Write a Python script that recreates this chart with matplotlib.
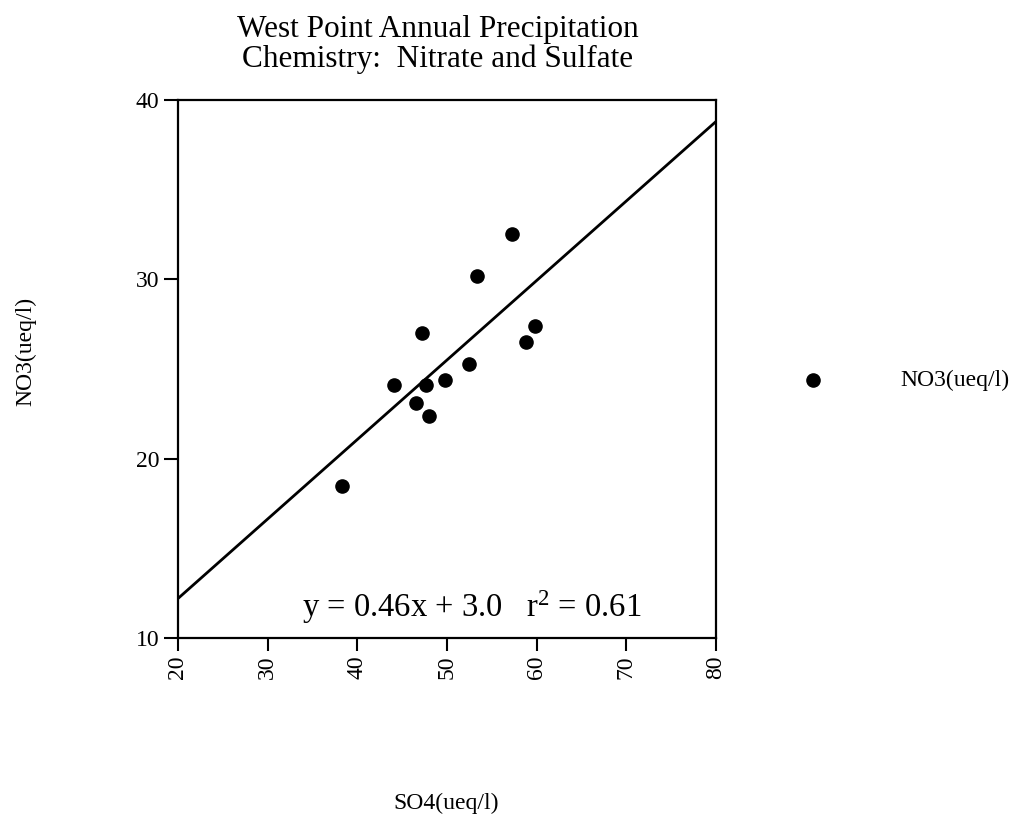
import matplotlib.pyplot as plt

plt.rcParams['font.family'] = ['Liberation Serif', 'DejaVu Serif']
plt.rcParams['mathtext.fontset'] = 'custom'
plt.rcParams['mathtext.rm'] = 'Liberation Serif'
plt.rcParams['mathtext.it'] = 'Liberation Serif'

# SO4 vs NO3 annual values (ueq/l)
so4 = [38.3, 44.1, 46.6, 47.2, 47.7, 48.0, 49.8, 52.5, 53.3, 57.3, 58.8, 59.8]
no3 = [18.5, 24.1, 23.1, 27.0, 24.1, 22.4, 24.4, 25.3, 30.2, 32.5, 26.5, 27.4]

# fitted line as drawn (ends at the axis edges) and the annotation values
fit_x = [20, 80]
fit_y = [12.2, 38.8]
slope = 0.46
intercept = 3.0
r2 = 0.61

x_ticks = [20, 30, 40, 50, 60, 70, 80]
y_ticks = [10, 20, 30, 40]

fig = plt.figure(figsize=(10.14, 8.23), dpi=100)
ax = fig.add_axes([0.1755, 0.2248, 0.5306, 0.6537])

ax.scatter(so4, no3, s=90, color='black', zorder=3, label='NO3(ueq/l)')
ax.plot(fit_x, fit_y, color='black', lw=2)

ax.set_xlim(20, 80)
ax.set_ylim(10, 40)
ax.set_xticks(x_ticks)
ax.set_yticks(y_ticks)
ax.tick_params(axis='x', labelrotation=90, labelsize=17, length=9, width=1.5, direction='out')
ax.tick_params(axis='y', labelsize=17, length=10, width=1.5, direction='out')
for s in ax.spines.values():
    s.set_linewidth(1.6)

ax.text(0.547, 0.039, 'y = %.2fx + %.1f   r$^2$ = %.2f' % (slope, intercept, r2),
        transform=ax.transAxes, fontsize=23.5, ha='center', va='baseline')

# two title lines, placed separately so the spacing matches
fig.text(0.432, 0.9555, 'West Point Annual Precipitation', ha='center', va='baseline', fontsize=22.5)
fig.text(0.432, 0.9185, 'Chemistry:  Nitrate and Sulfate', ha='center', va='baseline', fontsize=22.5)

fig.text(0.44, 0.024, 'SO4(ueq/l)', ha='center', va='center', fontsize=17)
fig.text(0.025, 0.573, 'NO3(ueq/l)', ha='center', va='center', fontsize=17, rotation=90)

# legend drawn off to the right
fig.legend(loc='center left', bbox_to_anchor=(0.778, 0.538), frameon=False,
           fontsize=17, handletextpad=2.7, borderpad=0, borderaxespad=0)

fig.savefig('out.png', dpi=100)
